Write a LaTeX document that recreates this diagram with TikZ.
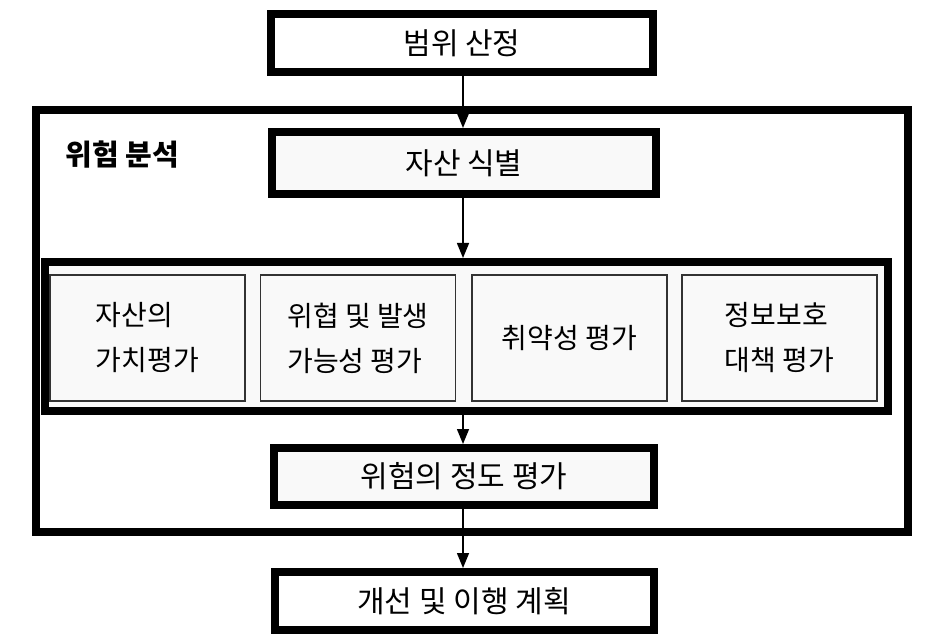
\documentclass[tikz,border=0pt]{standalone}
\usepackage{fontspec}
\setmainfont{Noto Sans CJK KR}
\usetikzlibrary{arrows.meta}
\tikzset{
  bigbox/.style={draw,line width=8pt,inner sep=0pt,font=\fontsize{30}{44}\selectfont},
  subbox/.style={draw=black!80,line width=1.5pt,fill=gray!5,inner sep=0pt,align=left,
    minimum width=195pt,minimum height=126pt,font=\fontsize{28}{45}\selectfont},
  flow/.style={line width=1.5pt,-{Triangle[length=15pt,width=12pt]}}
}
\begin{document}
\begin{tikzpicture}[x=1pt,y=-1pt]
  \useasboundingbox (0,0) rectangle (936,636);
  % outer frame
  \node[bigbox,minimum width=872pt,minimum height=422pt] (analysis) at (471.5,321) {};
  \node[anchor=west,font=\fontsize{29}{30}\selectfont\bfseries] (analysislabel) at (62,155) {위험 분석};
  % main steps
  \node[bigbox,fill=white,minimum width=382pt,minimum height=58pt] (scope) at (462,43) {범위 산정};
  \node[bigbox,fill=gray!5,minimum width=384pt,minimum height=62pt] (asset) at (464,163) {자산 식별};
  \node[bigbox,fill=gray!5,minimum width=843pt,minimum height=149pt] (group) at (466.5,336.5) {};
  \node[bigbox,fill=gray!5,minimum width=380pt,minimum height=57pt] (level) at (464,476.5) {위험의 정도 평가};
  \node[bigbox,fill=white,minimum width=379pt,minimum height=58pt] (plan) at (464,601) {개선 및 이행 계획};
  % four assessments
  \node[subbox] (value) at (147.5,338) {자산의\\가치평가};
  \node[subbox] (threat) at (358,338) {위협 및 발생\\가능성 평가};
  \node[subbox] (vuln) at (569.5,338) {취약성 평가};
  \node[subbox] (measure) at (779.5,338) {정보보호\\대책 평가};
  % arrows
  \draw[flow] (scope.south -| 463,0) -- (asset.north -| 463,0);
  \draw[flow] (asset.south -| 463,0) -- (group.north -| 463,0);
  \draw[flow] (group.south -| 463,0) -- (level.north -| 463,0);
  \draw[flow] (level.south -| 463,0) -- (plan.north -| 463,0);
\end{tikzpicture}
\end{document}
